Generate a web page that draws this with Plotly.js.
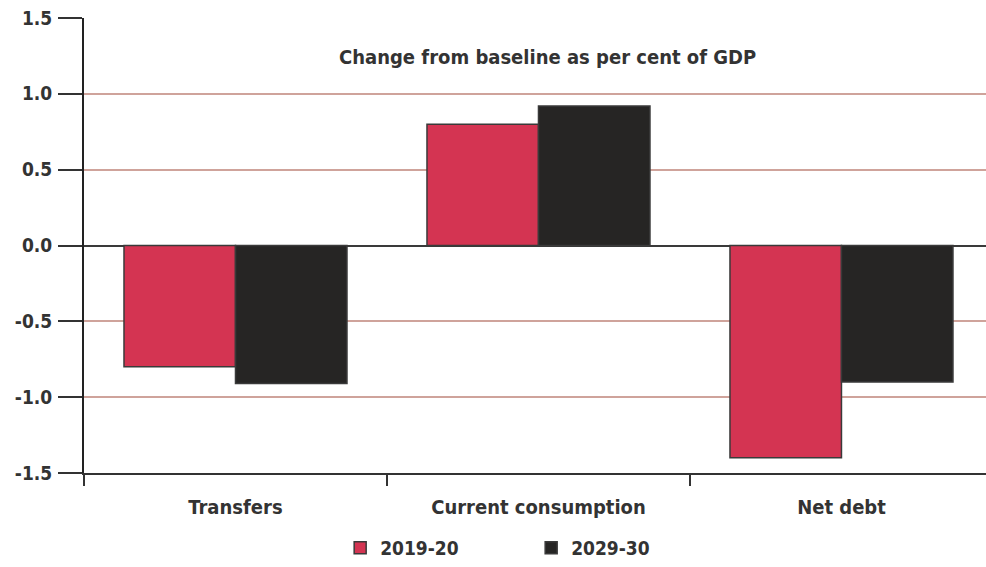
<!DOCTYPE html>
<html>
<head>
<meta charset="utf-8">
<script src="https://cdn.plot.ly/plotly-3.0.1.min.js"></script>
<style>
  html, body { margin: 0; padding: 0; background: #ffffff; }
  #chart { width: 986px; height: 567px; }
</style>
</head>
<body>
<div id="chart"></div>
<script>
// Data
var categories = ["Transfers", "Current consumption", "Net debt"];
var series2019 = [-0.8, 0.8, -1.4];
var series2029 = [-0.91, 0.92, -0.9];
var seriesNames = ["2019-20", "2029-30"];
var yTickVals = [-1.5, -1.0, -0.5, 0.0, 0.5, 1.0, 1.5];
var yTickText = ["-1.5", "-1.0", "-0.5", "0.0", "0.5", "1.0", "1.5"];
var subtitle = "Change from baseline as per cent of GDP";

var FONT = "DejaVu Sans Condensed, Liberation Sans Narrow, sans-serif";
var TXT = "#333333";

var traces = [
  {
    type: "bar",
    name: seriesNames[0],
    x: categories,
    y: series2019,
    marker: { color: "#d43452", line: { color: "#3a3a3a", width: 1.5 } },
    hoverinfo: "skip"
  },
  {
    type: "bar",
    name: seriesNames[1],
    x: categories,
    y: series2029,
    marker: { color: "#262524", line: { color: "#3a3a3a", width: 1.5 } },
    hoverinfo: "skip"
  }
];

var layout = {
  width: 986,
  height: 567,
  margin: { l: 84, r: 0, t: 18, b: 93, pad: 0 },
  paper_bgcolor: "#ffffff",
  plot_bgcolor: "#ffffff",
  barmode: "group",
  bargap: 0.264,
  bargroupgap: 0,
  font: { family: FONT, color: TXT, size: 17 },
  xaxis: {
    type: "category",
    range: [-0.5, 2.477],
    showgrid: false,
    zeroline: false,
    showline: true,
    linecolor: "#333333",
    linewidth: 2,
    ticks: "outside",
    tickson: "boundaries",
    ticklen: 11,
    tickwidth: 2,
    tickcolor: "#333333",
    ticklabelstandoff: 15,
    tickfont: { family: FONT, size: 20, color: TXT, weight: "bold" },
    fixedrange: true
  },
  yaxis: {
    range: [-1.5, 1.5],
    tickvals: yTickVals,
    ticktext: yTickText,
    showgrid: true,
    gridcolor: "#cfa39b",
    gridwidth: 2,
    zeroline: true,
    zerolinecolor: "#3a3a3a",
    zerolinewidth: 2,
    showline: true,
    linecolor: "#222222",
    linewidth: 2,
    ticks: "outside",
    ticklen: 24,
    tickwidth: 2,
    tickcolor: "#333333",
    ticklabelstandoff: 2,
    tickfont: { family: FONT, size: 19, color: TXT, weight: "bold" },
    fixedrange: true
  },
  showlegend: true,
  legend: {
    orientation: "h",
    x: 0.284,
    xanchor: "left",
    y: -0.164,
    yanchor: "middle",
    font: { family: FONT, size: 19, color: TXT, weight: "bold" },
    entrywidth: 146,
    entrywidthmode: "pixels",
    bgcolor: "rgba(0,0,0,0)"
  },
  annotations: [
    {
      text: subtitle,
      xref: "paper",
      yref: "paper",
      x: 0.514,
      y: 0.914,
      xanchor: "center",
      yanchor: "middle",
      showarrow: false,
      font: { family: FONT, size: 20, color: TXT, weight: "bold" }
    }
  ]
};

Plotly.newPlot("chart", traces, layout, { displayModeBar: false, staticPlot: true });
</script>
</body>
</html>
